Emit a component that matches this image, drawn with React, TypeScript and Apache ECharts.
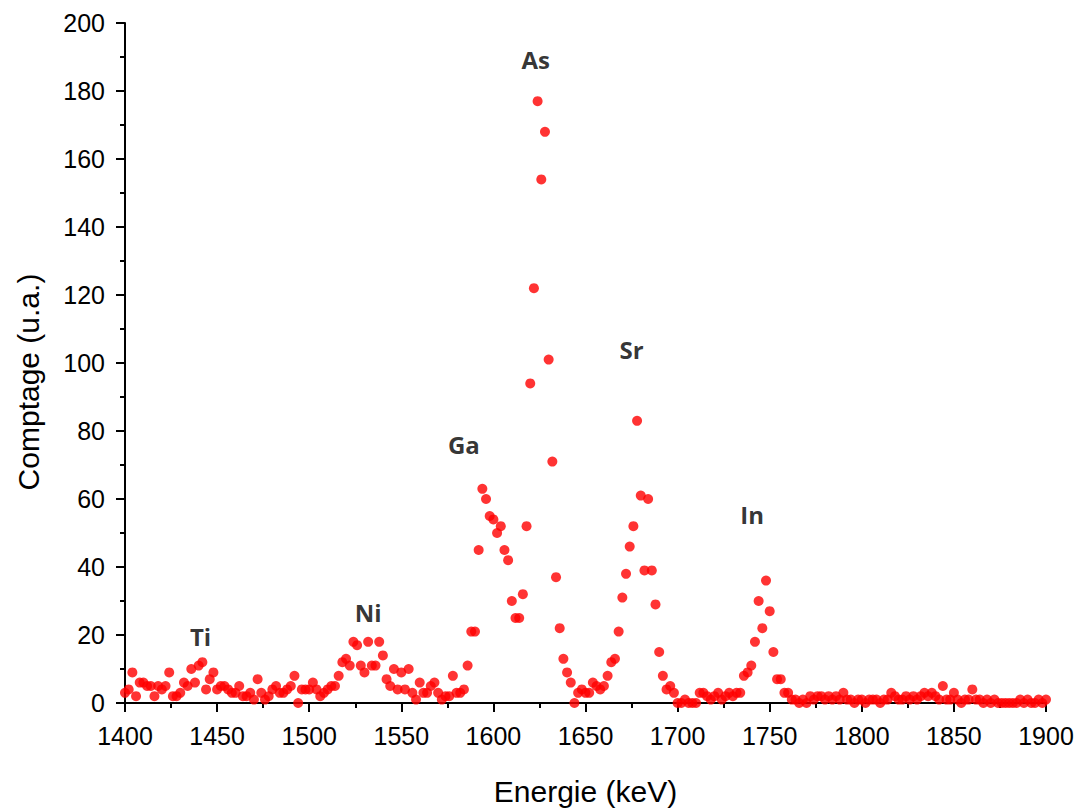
import { useEffect, useRef } from "react";
import * as echarts from "echarts";

// Energy grid of the spectrum (keV): first channel and channel width
const ENERGY_START = 1400;
const ENERGY_STEP = 2;

// Counts, by region (2 keV channels)
const counts1400to1478 = [3, 4, 9, 2, 6, 6, 5, 5, 2, 5, 4, 5, 9, 2, 2, 3, 6, 5, 10, 6, 11, 12, 4, 7, 9, 4, 5, 5, 4, 3, 3, 5, 2, 2, 3, 1, 7, 3, 1, 2];
const counts1480to1558 = [4, 5, 3, 3, 4, 5, 8, 0, 4, 4, 4, 6, 4, 2, 3, 4, 5, 5, 8, 12, 13, 11, 18, 17, 11, 9, 18, 11, 11, 18, 14, 7, 5, 10, 4, 9, 4, 10, 3, 1];
const counts1560to1638 = [6, 3, 3, 5, 6, 3, 1, 2, 2, 8, 3, 3, 4, 11, 21, 21, 45, 63, 60, 55, 54, 50, 52, 45, 42, 30, 25, 25, 32, 52, 94, 122, 177, 154, 168, 101, 71, 37, 22, 13];
const counts1640to1718 = [9, 6, 0, 3, 4, 3, 3, 6, 5, 4, 5, 8, 12, 13, 21, 31, 38, 46, 52, 83, 61, 39, 60, 39, 29, 15, 8, 4, 5, 3, 0, 0, 1, 0, 0, 0, 3, 3, 2, 1];
const counts1720to1798 = [2, 3, 1, 2, 3, 2, 3, 3, 8, 9, 11, 18, 30, 22, 36, 27, 15, 7, 7, 3, 3, 1, 1, 0, 1, 0, 2, 1, 2, 2, 1, 2, 1, 2, 1, 3, 1, 1, 0, 1];
const counts1800to1878 = [1, 0, 1, 1, 1, 0, 1, 1, 3, 2, 1, 1, 2, 1, 2, 1, 2, 3, 2, 3, 2, 1, 5, 1, 1, 3, 1, 0, 1, 1, 4, 1, 1, 0, 1, 0, 1, 0, 0, 0];
const counts1880to1900 = [0, 0, 0, 1, 0, 1, 0, 0, 1, 0, 1];

// Element labels
const peakNames = ["Ti", "Ni", "Ga", "As", "Sr", "In"];
const peakEnergies = [1441, 1532, 1584, 1623, 1675, 1740.5];
const peakLabelHeights = [19.5, 26.7, 75.9, 189.2, 104, 55.3];

// Axis ticks
const xTicks = [1400, 1450, 1500, 1550, 1600, 1650, 1700, 1750, 1800, 1850, 1900];
const yTicks = [0, 20, 40, 60, 80, 100, 120, 140, 160, 180, 200];

const FONT = "'Liberation Sans', Arial, sans-serif";

export default function App() {
  const ref = useRef<HTMLDivElement>(null);

  useEffect(() => {
    if (!ref.current) return;
    const chart = echarts.init(ref.current, undefined, { renderer: "svg" });

    const counts = [
      ...counts1400to1478,
      ...counts1480to1558,
      ...counts1560to1638,
      ...counts1640to1718,
      ...counts1720to1798,
      ...counts1800to1878,
      ...counts1880to1900,
    ];
    const points = counts.map((c, i) => [ENERGY_START + i * ENERGY_STEP, c]);
    const labels = peakNames.map((n, i) => ({ name: n, value: [peakEnergies[i], peakLabelHeights[i]] }));

    const axisCommon = {
      axisLine: { show: true, lineStyle: { color: "#000", width: 2 } },
      axisTick: { show: true, inside: false, length: 9, lineStyle: { color: "#000", width: 2 } },
      minorTick: { show: true, splitNumber: 2, length: 5, lineStyle: { color: "#000", width: 2 } },
      splitLine: { show: false },
      axisLabel: {
        color: "#000",
        fontSize: 25,
        fontFamily: FONT,
        margin: 20,
        formatter: (v: number) => String(v),
      },
    };

    chart.setOption({
      animation: false,
      backgroundColor: "#fff",
      grid: { left: 125, top: 23, width: 921, height: 683, containLabel: false },
      xAxis: {
        type: "value",
        min: xTicks[0],
        max: xTicks[xTicks.length - 1],
        interval: xTicks[1] - xTicks[0],
        name: "Energie (keV)",
        nameLocation: "middle",
        nameGap: 73,
        nameTextStyle: { color: "#000", fontSize: 30, fontFamily: FONT },
        ...axisCommon,
      },
      yAxis: {
        type: "value",
        min: yTicks[0],
        max: yTicks[yTicks.length - 1],
        interval: yTicks[1] - yTicks[0],
        name: "Comptage (u.a.)",
        nameLocation: "middle",
        nameGap: 82,
        nameTextStyle: { color: "#000", fontSize: 30, fontFamily: FONT, padding: [0, 38, 0, 0] },
        ...axisCommon,
      },
      series: [
        {
          type: "scatter",
          data: points,
          symbol: "circle",
          symbolSize: 10,
          itemStyle: { color: "#ff0000" },
          silent: true,
          z: 3,
        },
        {
          type: "scatter",
          data: labels,
          symbolSize: 0,
          silent: true,
          label: {
            show: true,
            position: "inside",
            formatter: "{b}",
            color: "#000",
            fontSize: 24,
            fontWeight: "bold",
            fontFamily: "'Open Sans', 'Noto Sans', sans-serif",
          },
          z: 4,
        },
      ],
    });

    return () => chart.dispose();
  }, []);

  return (
    <div
      ref={ref}
      style={{ position: "fixed", left: 0, top: 0, width: 1081, height: 811, background: "#fff" }}
    />
  );
}
